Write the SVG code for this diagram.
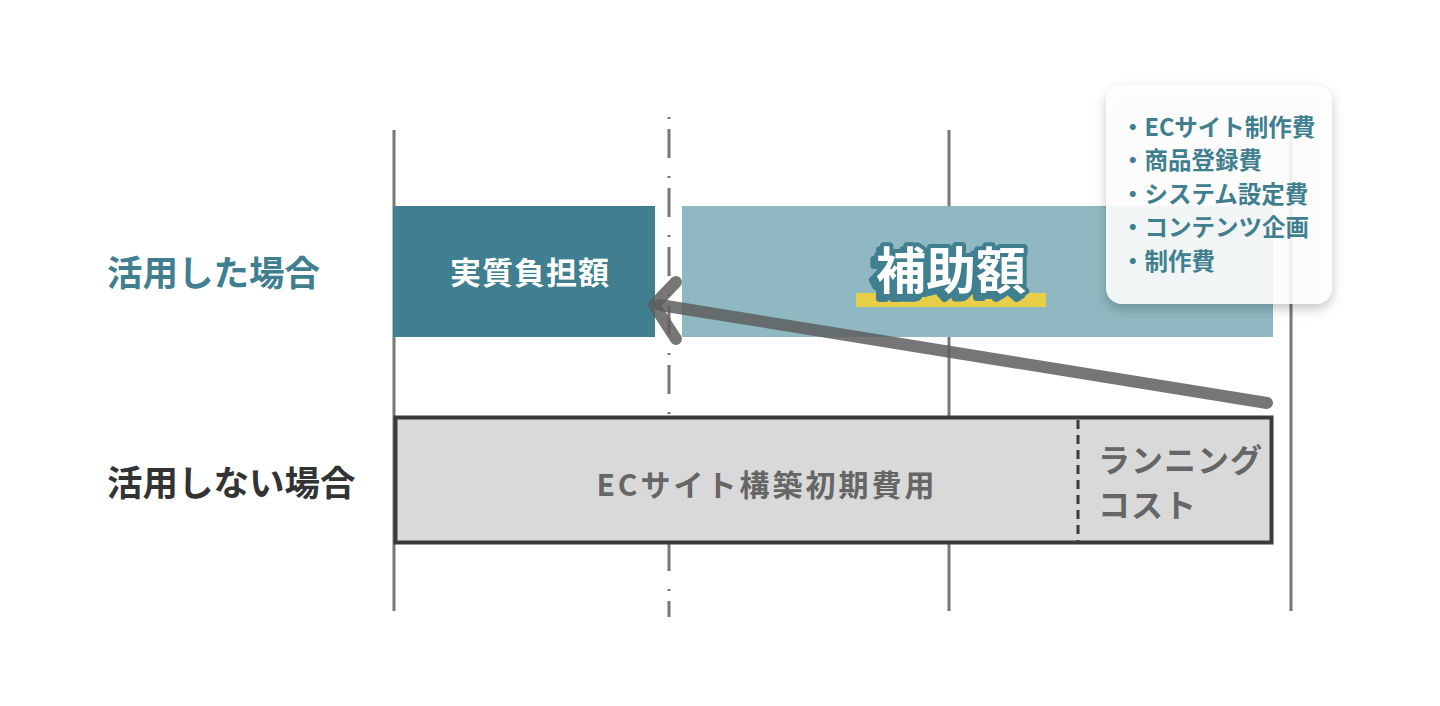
<svg xmlns="http://www.w3.org/2000/svg" width="1440" height="706" viewBox="0 0 1440 706">
<defs>
<style>
.t{font-family:"Noto Sans CJK JP","Noto Sans",sans-serif;font-weight:700}
.vl{stroke:#777;stroke-width:3;fill:none}
</style>
<filter id="sh" x="-20%" y="-20%" width="140%" height="150%">
<feDropShadow dx="0" dy="5" stdDeviation="6" flood-color="#000" flood-opacity="0.25"/>
</filter>
<filter id="outl" x="-20%" y="-30%" width="140%" height="160%">
<feFlood flood-color="#3f7f8f" result="c"/>
<feComposite in="c" in2="SourceAlpha" operator="in" result="s"/>
<feOffset in="s" dx="-4" dy="4" result="o"/>
<feMerge><feMergeNode in="o"/><feMergeNode in="SourceGraphic"/></feMerge>
</filter>
</defs>
<rect width="1440" height="706" fill="#fff"/>
<g id="gridlines">
<line class="vl" x1="394" y1="130" x2="394" y2="611"/>
<line class="vl" x1="949" y1="130" x2="949" y2="611"/>
<line class="vl" x1="1291" y1="130" x2="1291" y2="611"/>
<line class="vl" x1="669" y1="117" x2="669" y2="617" stroke-dasharray="2 10 29 18"/>
</g>
<g id="node-jisshitsu">
<rect x="393" y="206" width="262" height="131" fill="#3f7f8f"/>
<text class="t" x="530" y="284" font-size="31" fill="#fff" text-anchor="middle" letter-spacing="1">実質負担額</text>
</g>
<g id="node-hojo">
<rect x="682" y="206" width="591" height="131" fill="#8fb8c2"/>
<rect x="856" y="293" width="190" height="14" fill="#e8cf4a"/>
<text class="t" x="951" y="289" font-size="50" fill="#fff" stroke="#3f7f8f" stroke-width="8" stroke-linejoin="round" paint-order="stroke" text-anchor="middle" filter="url(#outl)">補助額</text>
</g>
<g id="node-initial">
<rect x="395.5" y="417.5" width="876" height="125" fill="#d9d9d9" stroke="#3a3a3a" stroke-width="4"/>
<line x1="1078" y1="420" x2="1078" y2="541" stroke="#3a3a3a" stroke-width="3" stroke-dasharray="9 6"/>
<text class="t" x="767" y="496" font-size="30" fill="#666" text-anchor="middle" letter-spacing="3">ECサイト構築初期費用</text>
<text class="t" x="1098" y="472" font-size="32" fill="#666" letter-spacing="1">ランニング</text>
<text class="t" x="1098" y="517" font-size="32" fill="#666" letter-spacing="1">コスト</text>
</g>
<g id="connectors" stroke="#5e5e5e" stroke-opacity="0.85" stroke-width="12" stroke-linecap="round" stroke-linejoin="round" fill="none">
<path d="M1267 403 L660 305"/>
<path d="M676 282 L654 305 L676 339"/>
</g>
<g id="node-card">
<rect x="1106" y="85" width="226" height="219" rx="16" fill="#fff" fill-opacity="0.88" filter="url(#sh)"/>
<g class="t" font-size="23.5" fill="#3f7f8f">
<text x="1121" y="136">・ECサイト制作費</text>
<text x="1121" y="169">・商品登録費</text>
<text x="1121" y="203">・システム設定費</text>
<text x="1121" y="236">・コンテンツ企画</text>
<text x="1121" y="270">・制作費</text>
</g>
</g>
<g id="label-used">
<text class="t" x="107" y="286" font-size="35.5" fill="#3f7f8f">活用した場合</text>
</g>
<g id="label-notused">
<text class="t" x="107" y="496" font-size="35.5" fill="#333">活用しない場合</text>
</g>
</svg>
